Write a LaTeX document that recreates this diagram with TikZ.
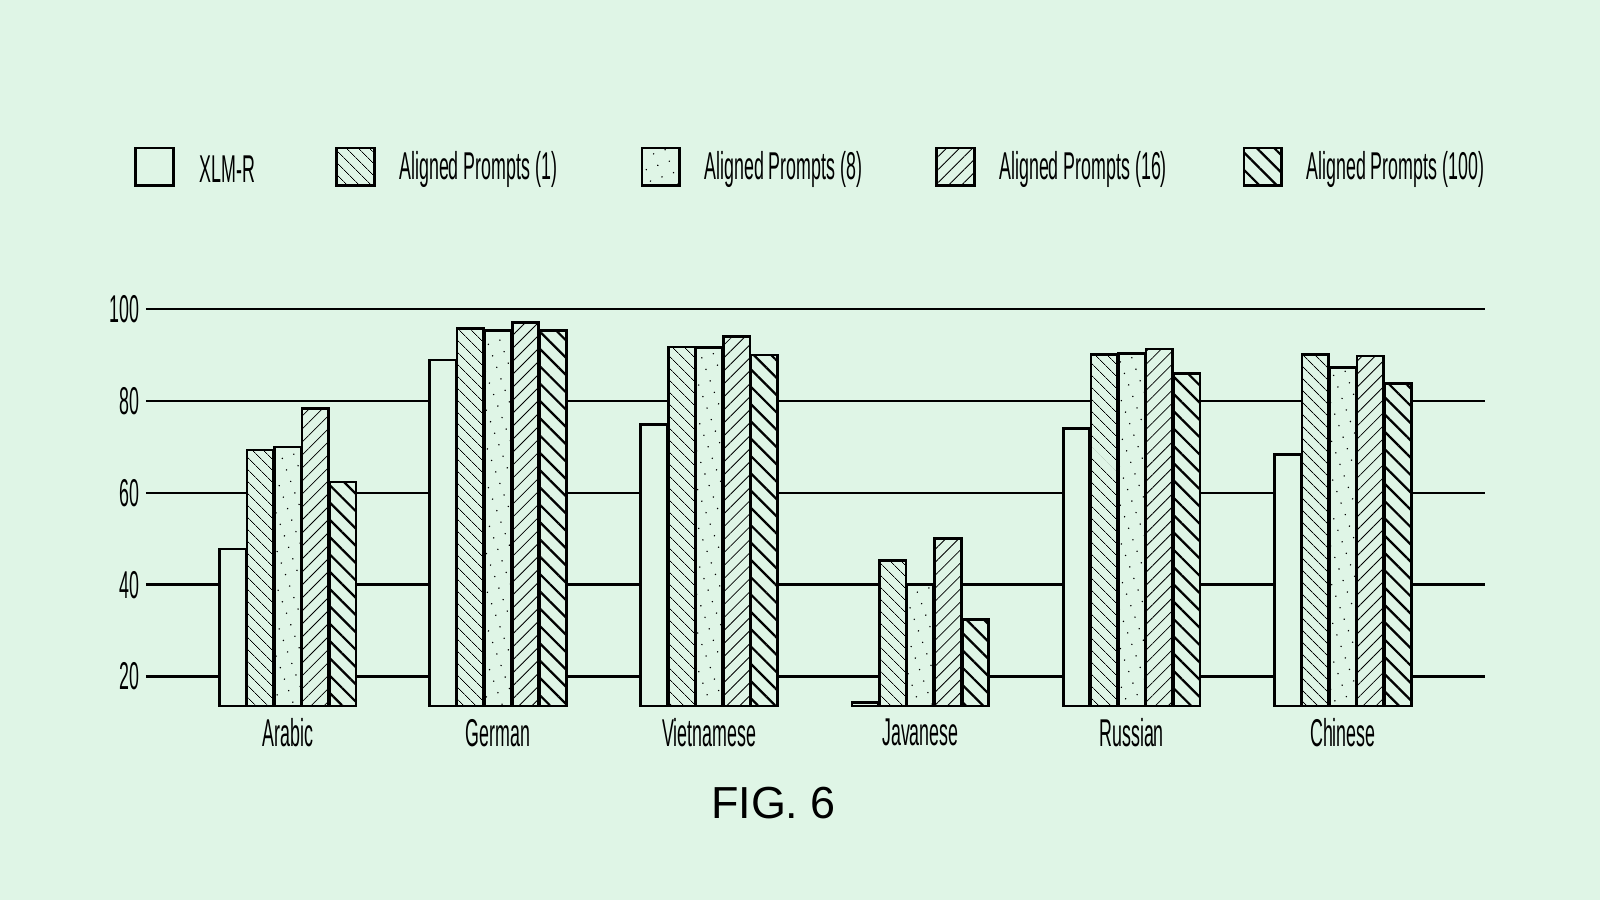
\documentclass[tikz,border=0pt]{standalone}
\usepackage{fontspec}
\setmainfont{Liberation Sans}
\newfontfamily\narrowfont[FakeStretch=0.46]{Liberation Sans}
\usetikzlibrary{patterns.meta}
\definecolor{bgcol}{HTML}{DFF5E6}
\tikzset{
  barbox/.style={draw, line width=1.3pt, fill=bgcol},
  xlmr/.style={barbox},
  ap1/.style={barbox, postaction={pattern={Lines[angle=-45,distance=4pt,line width=0.4pt]}}},
  ap8/.style={barbox, postaction={pattern={Dots[angle=20,distance=6pt,radius=0.4pt]}}},
  ap16/.style={barbox, postaction={pattern={Lines[angle=45,distance=4.5pt,line width=0.4pt]}}},
  ap100/.style={barbox, postaction={pattern={Lines[angle=-45,distance=6pt,line width=1.1pt]}}},
  lab/.style={font=\narrowfont\fontsize{19}{19}\selectfont, inner sep=0pt}
}
\begin{document}
\begin{tikzpicture}[x=0.5pt, y=-0.5pt]
  % Background
  \fill[bgcol] (0,0) rectangle (1568,882);
  \useasboundingbox (0,0) rectangle (1568,882);

  % Legend
  \foreach \st/\bx/\tx/\txt in {xlmr/133/195/XLM-R, ap1/330/391/Aligned Prompts (1),
      ap8/629/690/Aligned Prompts (8), ap16/918/979/Aligned Prompts (16),
      ap100/1219/1280/Aligned Prompts (100)}{
    \draw[\st] (\bx,145) rectangle ++(37,37);
    \node[lab, anchor=west] (leg-\st) at (\tx,166) {\txt};
  }

  % Grid lines and tick labels
  \foreach \v in {20,40,60,80,100}{
    \draw[line width=1.2pt] (143,753-4.5*\v) -- (1455,753-4.5*\v);
    \node[lab, anchor=east] (tick-\v) at (137,753-4.5*\v) {\v};
  }

  % Bars
  \foreach \gx/\lang/\a/\b/\c/\d/\e in {215/Arabic/47.8/69.3/70/78.4/62.4,
      421/German/88.9/95.8/95.3/97.1/95.3,
      628/Vietnamese/74.9/91.8/91.6/94/90,
      835/Javanese/14.4/45.3/40/50/32.4,
      1042/Russian/74/90.2/90.4/91.3/86,
      1249/Chinese/68.4/90.2/87.3/89.8/83.8}{
    \draw[xlmr]  (\gx,692)     rectangle (\gx+26,753-4.5*\a);
    \draw[ap1]   (\gx+27,692)  rectangle (\gx+53,753-4.5*\b);
    \draw[ap8]   (\gx+54,692)  rectangle (\gx+80,753-4.5*\c);
    \draw[ap16]  (\gx+81,692)  rectangle (\gx+107,753-4.5*\d);
    \draw[ap100] (\gx+108,692) rectangle (\gx+134,753-4.5*\e);
    \node[lab] (name-\lang) at (\gx+67,718) {\lang};
  }

  % Caption
  \node[font=\fontsize{22}{22}\selectfont] (caption) at (758,787) {FIG. 6};
\end{tikzpicture}
\end{document}
